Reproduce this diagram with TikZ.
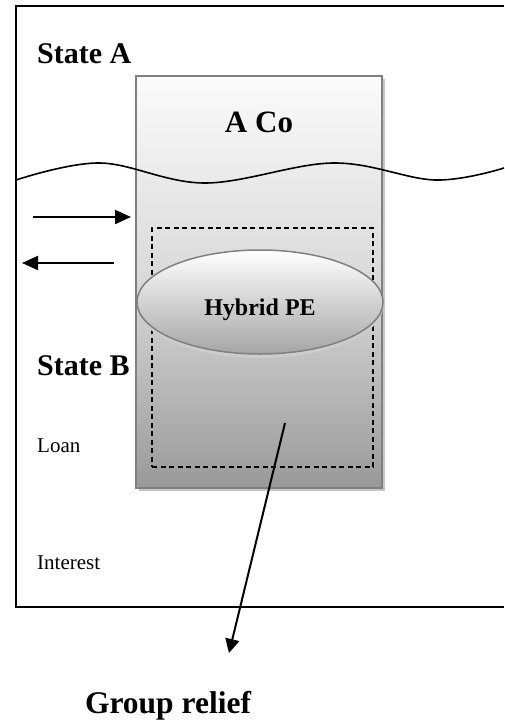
\documentclass[tikz,border=0pt]{standalone}
\usepackage{fontspec}
\setmainfont{Liberation Serif}
\usetikzlibrary{arrows.meta,shadows,shapes.geometric}

\tikzset{
  frame/.style={line width=2pt},
  company/.style={draw=gray, line width=1.8pt, inner sep=0pt,
    top color=gray!3, bottom color=gray!80, middle color=gray!30,
    drop shadow={shadow xshift=3pt, shadow yshift=-3pt, fill=gray!45, opacity=1}},
  hybrid/.style={ellipse, draw=gray, line width=1.5pt, inner sep=0pt,
    top color=white, bottom color=gray!70,
    drop shadow={shadow xshift=0pt, shadow yshift=-4pt, fill=gray!40, opacity=1}},
  zone/.style={draw, dashed, dash pattern=on 5pt off 3.5pt, line width=1.4pt, inner sep=0pt},
  flow/.style={line width=2pt, -{Triangle[length=16pt,width=14pt]}},
  statelabel/.style={anchor=base west, inner sep=0pt, font=\fontsize{30}{36}\selectfont\bfseries},
  textlabel/.style={anchor=base west, inner sep=0pt, font=\fontsize{21}{25}\selectfont}
}

\begin{document}
\begin{tikzpicture}[x=1pt, y=-1pt]
  \useasboundingbox (0,0) rectangle (504,720);

  % states
  \draw[frame] (504,6) -| (16,607) -- (504,607);

  % company box
  \node[company, minimum width=246pt, minimum height=412pt] (aco) at (259,282) {};
  \node[anchor=base, inner sep=0pt, font=\fontsize{31}{36}\selectfont\bfseries] (acolabel) at (259,132) {A Co};

  % border between the states
  \draw[line width=1.6pt] plot[smooth, tension=0.6] coordinates
    {(16,180) (100,163) (205,183) (333,163) (435,180) (504,168)};

  % permanent establishment
  \node[zone, minimum width=221pt, minimum height=239pt] (zone) at (262.5,347.5) {};
  \node[hybrid, minimum width=246pt, minimum height=104pt] (pe) at (260,302) {};
  \node[anchor=base, inner sep=0pt, font=\fontsize{24}{28}\selectfont\bfseries] (pelabel) at (260,315) {Hybrid PE};

  % labels
  \node[statelabel] (statea) at (37,63) {State A};
  \node[statelabel] (stateb) at (37,375) {State B};
  \node[textlabel] (loan) at (37,452) {Loan};
  \node[textlabel] (interest) at (37,569) {Interest};
  \node[anchor=base, inner sep=0pt, font=\fontsize{31.5}{36}\selectfont\bfseries] (relief) at (168,713) {Group relief};

  % flows
  \coordinate (loanfrom) at (33,217);
  \coordinate (loanto) at (131,217);
  \coordinate (interestfrom) at (114,263);
  \coordinate (interestto) at (22,263);
  \coordinate (lossfrom) at (285,423);
  \coordinate (lossto) at (229,653);
  \draw[flow] (loanfrom) -- (loanto);
  \draw[flow] (interestfrom) -- (interestto);
  \draw[flow, -{Triangle[length=14pt,width=14pt]}] (lossfrom) -- (lossto);
\end{tikzpicture}
\end{document}
